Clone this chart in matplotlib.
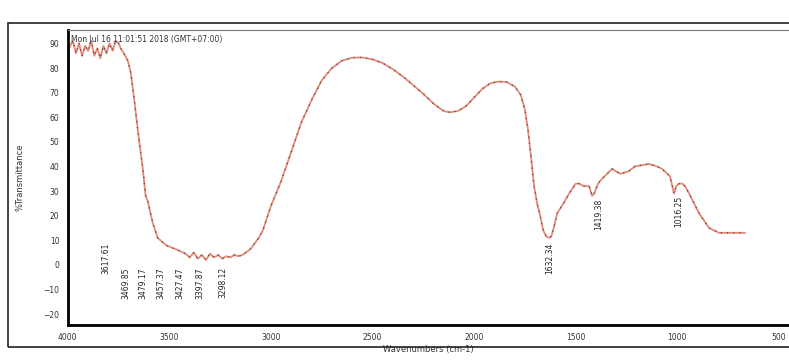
import matplotlib.pyplot as plt
from matplotlib.patches import Rectangle

# spectrum (wavenumber cm-1, %T)
wavenumber = [3995, 3975, 3960, 3945, 3930, 3915, 3900, 3885, 3870, 3855, 3840, 3825,
              3810, 3795, 3780, 3765, 3750, 3740, 3725, 3705, 3690, 3676, 3656, 3631,
              3617, 3607, 3582, 3558, 3518, 3459, 3420, 3400, 3380, 3360, 3340, 3320,
              3300, 3280, 3260, 3240, 3220, 3200, 3180, 3160, 3140, 3100, 3060, 3040,
              3000, 2950, 2900, 2850, 2800, 2750, 2700, 2650, 2600, 2550, 2500, 2450,
              2400, 2350, 2300, 2250, 2200, 2150, 2120, 2080, 2040, 2000, 1960, 1920,
              1880, 1840, 1800, 1770, 1750, 1735, 1720, 1705, 1690, 1675, 1660, 1645,
              1632, 1620, 1605, 1591, 1560, 1532, 1500, 1483, 1460, 1434, 1419, 1409,
              1390, 1370, 1321, 1281, 1240, 1208, 1139, 1100, 1075, 1036, 1016, 1005,
              991, 975, 962, 942, 893, 844, 795, 667]
transmittance = [88, 91, 86, 90, 85, 89, 87, 91, 85, 88, 84, 89,
                 86, 90, 87, 91, 90, 88, 86, 83, 78, 69, 55, 39,
                 28, 26, 17, 11, 8, 6, 4.5, 3, 5, 2.5, 4, 2,
                 4.5, 3, 4, 2.5, 3.5, 3, 4, 3.5, 4, 6.5, 11, 14,
                 24, 34, 46, 58, 67, 75, 80, 83, 84.2, 84.3, 83.5, 82,
                 79.5, 76.5, 73, 69.5, 65.5, 62.5, 62, 62.5, 64.5, 68, 71.5, 73.8,
                 74.5, 74.3, 72.5, 69, 63, 55, 44, 32, 25, 20, 14, 11.5,
                 11, 11.5, 16, 21, 25, 29, 33, 33, 32, 32, 28, 29,
                 33, 35, 39, 37, 38, 40, 41, 40, 39, 36, 29, 32,
                 33, 33, 32, 29, 21, 15, 13, 13]

# peak labels
peak_labels = ["3617.61", "3469.85", "3479.17", "3457.37", "3427.47", "3397.87",
               "3298.12", "1632.34", "1419.38", "1016.25"]
label_x = [3813, 3715, 3631, 3543, 3449, 3351, 3238, 1630, 1385, 991]
label_y = [9, -1, -1, -1, -1, -1, -1, 9, 27, 28]

y_ticks = [-20, -10, 0, 10, 20, 30, 40, 50, 60, 70, 80, 90]
x_ticks = [4000, 3500, 3000, 2500, 2000, 1500, 1000, 500]

fig = plt.figure(figsize=(7.89, 3.6), dpi=100)
ax = fig.add_axes([0.086, 0.097, 0.914, 0.82])

ax.plot(wavenumber, transmittance, color="#e58a78", lw=1.3)
ax.plot(wavenumber, transmittance, color="#6a4038", lw=0.9, linestyle=(0, (1, 4)))

for txt, xx, yy in zip(peak_labels, label_x, label_y):
    ax.text(xx, yy, txt, rotation=90, ha="center", va="top", fontsize=5.5, color="#222")

ax.text(3985, 93.5, "Mon Jul 16 11:01:51 2018 (GMT+07:00)", fontsize=5.5,
        color="#333", va="top", ha="left")

ax.set_xlim(4000, 450)
ax.set_ylim(-24.5, 95.5)
ax.set_xticks(x_ticks)
ax.set_yticks(y_ticks)
ax.tick_params(length=0, labelsize=5.5, labelcolor="#333", pad=6)
ax.set_xlabel("Wavenumbers (cm-1)", fontsize=6, color="#333", labelpad=2)
ax.set_ylabel("%Transmittance", fontsize=6, color="#333", labelpad=14)

ax.spines["right"].set_visible(False)
ax.spines["left"].set_linewidth(2)
ax.spines["bottom"].set_linewidth(2)
ax.spines["top"].set_linewidth(0.8)
ax.spines["top"].set_color("#777")

# outer frame of the printed page
fig.patches.append(Rectangle((0.01, 0.035), 1.0, 0.9, transform=fig.transFigure,
                             fill=False, edgecolor="#222", lw=1.2))

fig.savefig("out.png", dpi=100)
